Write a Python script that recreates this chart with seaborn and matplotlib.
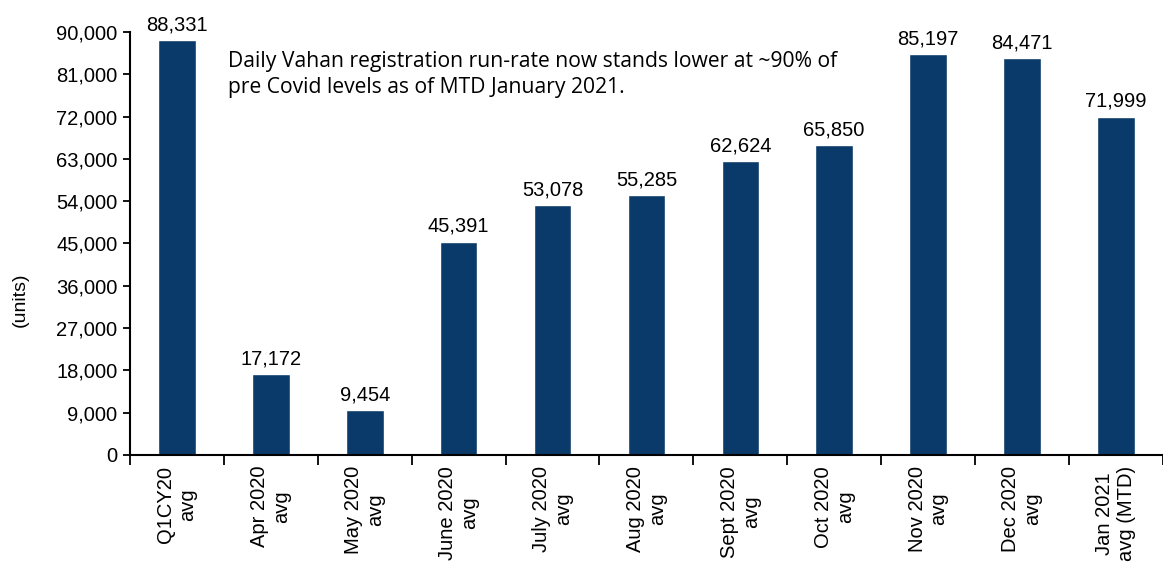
import matplotlib
matplotlib.use("Agg")
import matplotlib.pyplot as plt
import seaborn as sns
import pandas as pd
from matplotlib.ticker import FuncFormatter, FixedLocator, NullFormatter

categories = ["Q1CY20\navg", "Apr 2020\navg", "May 2020\navg", "June 2020\navg",
              "July 2020\navg", "Aug 2020\navg", "Sept 2020\navg", "Oct 2020\navg",
              "Nov 2020\navg", "Dec 2020\navg", "Jan 2021\navg (MTD)"]
values = [88331, 17172, 9454, 45391, 53078, 55285, 62624, 65850, 85197, 84471, 71999]
yticks = list(range(0, 90001, 9000))

sns.set_style("white")
plt.rcParams['font.family'] = ['Liberation Sans', 'DejaVu Sans']
plt.rcParams['text.color'] = 'black'
plt.rcParams['axes.labelcolor'] = 'black'
plt.rcParams['xtick.color'] = 'black'
plt.rcParams['ytick.color'] = 'black'

df = pd.DataFrame({"cat": categories, "val": values})

fig = plt.figure(figsize=(11.63, 5.70), dpi=100)
ax = fig.add_axes([0.1118, 0.202, 0.888, 0.742])

sns.barplot(data=df, x="cat", y="val", color="#0A3A69", saturation=1, width=0.4, ax=ax)

ax.set_ylim(0, 90000)
ax.set_xlim(-0.5, len(categories) - 0.5)
ax.set_yticks(yticks)
ax.yaxis.set_major_formatter(FuncFormatter(lambda v, p: f"{v:,.0f}"))
ax.tick_params(axis='y', labelsize=14.5, length=5, width=1.3, direction='out', left=True, pad=4)
ax.set_ylabel("(units)", fontsize=14)
ax.yaxis.set_label_coords(-0.098, 0.366)
ax.set_xlabel("")

ax.set_xticks(range(len(categories)))
ax.set_xticklabels(categories, rotation=90, fontsize=14.5, ha='center', va='top', multialignment='center')
ax.tick_params(axis='x', which='major', length=0, pad=8)
ax.xaxis.set_minor_locator(FixedLocator([i - 0.5 for i in range(len(categories) + 1)]))
ax.xaxis.set_minor_formatter(NullFormatter())
ax.tick_params(axis='x', which='minor', length=7, width=1.3, direction='out', bottom=True)

for s in ["top", "right"]:
    ax.spines[s].set_visible(False)
for s in ["left", "bottom"]:
    ax.spines[s].set_visible(True)
    ax.spines[s].set_color("black")
    ax.spines[s].set_linewidth(1.5)

ax.bar_label(ax.containers[0], labels=[f"{v:,.0f}" for v in values], fontsize=14.5, padding=4, color='black')

ax.text(0.095, 0.955, "Daily Vahan registration run-rate now stands lower at ~90% of\npre Covid levels as of MTD January 2021.",
        transform=ax.transAxes, fontsize=15.2, ha='left', va='top', linespacing=1.3,
        family=['Open Sans', 'DejaVu Sans'], color='black')

fig.savefig("out.png", dpi=100)
